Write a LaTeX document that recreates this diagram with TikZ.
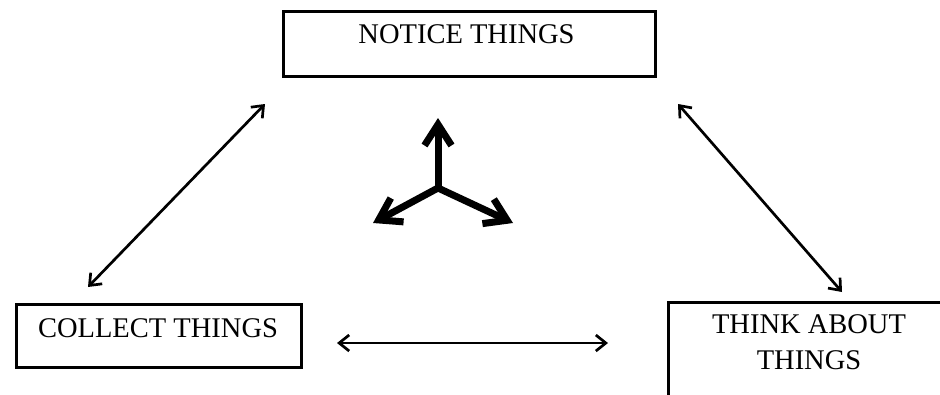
\documentclass[tikz,border=0pt]{standalone}
\usepackage{fontspec}
\setmainfont{Liberation Serif}
\usetikzlibrary{arrows.meta}
\begin{document}
\begin{tikzpicture}[x=1pt,y=-1pt,
  box/.style={draw=black, line width=3pt, inner sep=0pt, outer sep=0pt, anchor=north west},
  lbl/.style={font=\fontsize{28.5}{36}\selectfont, inner sep=0pt, text=black},
  link/.style={line width=2.7pt, {Straight Barb[length=10pt,width=16pt]}-{Straight Barb[length=10pt,width=16pt]}},
  big/.style={line width=7pt, line cap=round, -{Straight Barb[length=21pt,width=27pt]}}]
\clip (0,0) rectangle (940,394);
% boxes
\node[box, minimum width=372pt, minimum height=65pt] (notice) at (283.5,11.5) {};
\node[box, minimum width=285pt, minimum height=63pt] (collect) at (16.5,304.5) {};
\node[box, minimum width=290pt, minimum height=130pt] (think) at (668.5,302.5) {};
% labels
\node[lbl, anchor=base] (noticetext) at (466.5,43) {NOTICE THINGS};
\node[lbl, anchor=base] (collecttext) at (158,337) {COLLECT THINGS};
\node[lbl, align=center] (thinktext) at (809,342) {THINK ABOUT\\THINGS};
% connector end points
\coordinate (a1) at (265,104);
\coordinate (a2) at (88,287);
\coordinate (b1) at (678,104);
\coordinate (b2) at (842,292);
\coordinate (c1) at (337,343);
\coordinate (c2) at (608,343);
\draw[link] (a1) -- (a2);
\draw[link] (b1) -- (b2);
\draw[link] (c1) -- (c2);
% central three-way arrow
\coordinate (o) at (438,188);
\coordinate (u) at (438,118);
\coordinate (l) at (373,223);
\coordinate (r) at (513,223);
\draw[big] (o) -- (u);
\draw[big] (o) -- (l);
\draw[big] (o) -- (r);
\end{tikzpicture}
\end{document}
